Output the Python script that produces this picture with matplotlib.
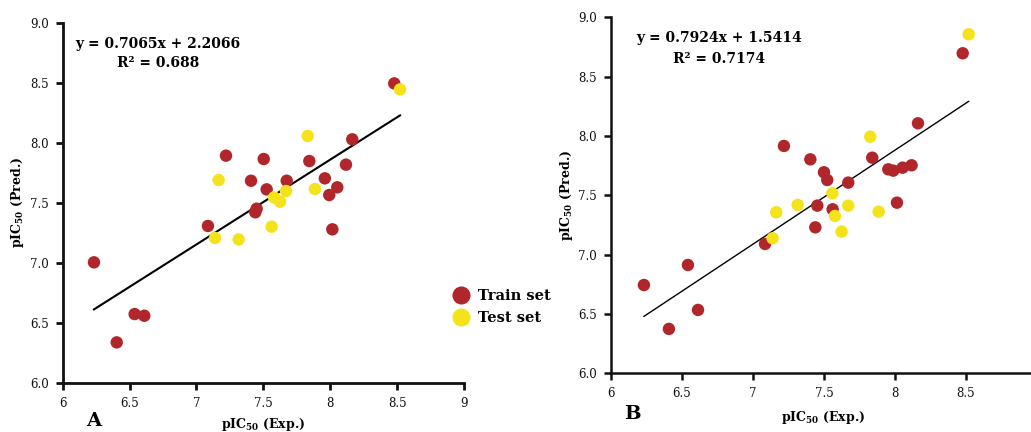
import matplotlib
matplotlib.use("Agg")
import matplotlib.pyplot as plt
from matplotlib.lines import Line2D
import numpy as np

plt.rcParams['font.family'] = ['DejaVu Serif']
plt.rcParams['mathtext.fontset'] = 'custom'
plt.rcParams['mathtext.rm'] = 'DejaVu Serif:bold'
plt.rcParams['mathtext.bf'] = 'DejaVu Serif:bold'
plt.rcParams['mathtext.it'] = 'DejaVu Serif:bold'

RED = '#B1262A'
YEL = '#F4E31B'

# Panel A data
a_train_x = [8.479, 8.165, 8.118, 7.844, 7.96, 8.053, 7.993, 8.016, 7.675, 7.503,
             7.221, 7.408, 7.525, 7.45, 7.44, 7.086, 6.234, 6.538, 6.61, 6.404]
a_train_y = [8.494, 8.028, 7.817, 7.847, 7.703, 7.628, 7.564, 7.278, 7.683, 7.864,
             7.892, 7.683, 7.611, 7.45, 7.42, 7.306, 7.003, 6.572, 6.558, 6.336]
a_test_x = [8.522, 7.832, 7.166, 7.886, 7.67, 7.58, 7.625, 7.562, 7.139, 7.316]
a_test_y = [8.444, 8.056, 7.689, 7.614, 7.597, 7.544, 7.508, 7.3, 7.206, 7.194]
a_fit = (0.7065, 2.2066)
a_eq = "y = 0.7065x + 2.2066"
a_r2 = "R\u00b2 = 0.688"

# Panel B data
b_train_x = [8.477, 8.162, 8.117, 8.054, 7.988, 7.953, 7.84, 8.014, 7.671, 7.5, 7.523,
             7.404, 7.218, 7.453, 7.561, 7.439, 7.085, 6.542, 6.232, 6.613, 6.408]
b_train_y = [8.697, 8.107, 7.753, 7.733, 7.708, 7.719, 7.817, 7.438, 7.607, 7.694, 7.629,
             7.803, 7.916, 7.413, 7.382, 7.23, 7.09, 6.913, 6.744, 6.534, 6.374]
b_test_x = [8.519, 7.826, 7.559, 7.671, 7.315, 7.164, 7.885, 7.577, 7.624, 7.138]
b_test_y = [8.857, 7.994, 7.517, 7.413, 7.419, 7.357, 7.362, 7.326, 7.194, 7.138]
b_fit = (0.7924, 1.5414)
b_eq = "y = 0.7924x + 1.5414"
b_r2 = "R\u00b2 = 0.7174"

x_ticks = [6, 6.5, 7, 7.5, 8, 8.5, 9]
x_ticklabels = ['6', '6.5', '7', '7.5', '8', '8.5', '9']
y_ticks = [6.0, 6.5, 7.0, 7.5, 8.0, 8.5, 9.0]
y_ticklabels = ['6.0', '6.5', '7.0', '7.5', '8.0', '8.5', '9.0']

fig = plt.figure(figsize=(10.31, 4.32), dpi=100)
axA = fig.add_axes([0.0608, 0.1141, 0.3892, 0.8334])
axB = fig.add_axes([0.5926, 0.1359, 0.4132, 0.8240])


def style(ax, lw):
    ax.set_xlim(6, 9)
    ax.set_ylim(6, 9)
    ax.set_xticks(x_ticks)
    ax.set_xticklabels(x_ticklabels)
    ax.set_yticks(y_ticks)
    ax.set_yticklabels(y_ticklabels)
    for s in ['top', 'right']:
        ax.spines[s].set_visible(False)
    for s in ['left', 'bottom']:
        ax.spines[s].set_linewidth(lw)
        ax.spines[s].set_color('#111111')
    ax.tick_params(direction='out', length=5, width=lw, labelsize=8.5,
                   colors='#111111', pad=5)
    ax.set_xlabel(r'pIC$_{50}$ (Exp.)', fontsize=9, fontweight='bold')
    ax.set_ylabel(r'pIC$_{50}$ (Pred.)', fontsize=9, fontweight='bold')


def draw(ax, tx, ty, sx, sy, fit, lw_fit):
    allx = np.array(tx + sx)
    xs = np.array([allx.min(), allx.max()])
    ax.plot(xs, np.polyval(fit, xs), color='black', lw=lw_fit, zorder=1)
    ax.scatter(tx, ty, s=80, color=RED, edgecolors='none', zorder=2)
    ax.scatter(sx, sy, s=80, color=YEL, edgecolors='none', zorder=3)


style(axA, 2.0)
draw(axA, a_train_x, a_train_y, a_test_x, a_test_y, a_fit, 1.5)
axA.xaxis.set_label_coords(0.5, -0.093)
axA.yaxis.set_label_coords(-0.0915, 0.5)
axA.text(0.2375, 0.941, a_eq, transform=axA.transAxes, ha='center', va='center',
         fontsize=10, fontweight='bold')
axA.text(0.2375, 0.888, a_r2, transform=axA.transAxes, ha='center', va='center',
         fontsize=10, fontweight='bold')

style(axB, 1.8)
draw(axB, b_train_x, b_train_y, b_test_x, b_test_y, b_fit, 1.0)
axB.xaxis.set_label_coords((823 - 611) / 426, -0.10)
axB.yaxis.set_label_coords(-0.0845, 0.5)
axB.text(0.2535, 0.942, b_eq, transform=axB.transAxes, ha='center',
         va='center', fontsize=10, fontweight='bold')
axB.text(0.2535, 0.883, b_r2, transform=axB.transAxes, ha='center',
         va='center', fontsize=10, fontweight='bold')

fig.text(94 / 1031, 1 - 421 / 432, 'A', fontsize=14, fontweight='bold',
         ha='center', va='center')
fig.text(632 / 1031, 1 - 414 / 432, 'B', fontsize=14, fontweight='bold',
         ha='center', va='center')

handles = [Line2D([], [], marker='o', ls='none', color=RED, markersize=13,
                  markeredgewidth=0, label='Train set'),
           Line2D([], [], marker='o', ls='none', color=YEL, markersize=13,
                  markeredgewidth=0, label='Test set')]
fig.legend(handles=handles, loc='center left', bbox_to_anchor=(445 / 1031, 1 - 307 / 432),
           frameon=False, prop={'weight': 'bold', 'size': 10.5},
           handletextpad=0.55, labelspacing=0.55, borderpad=0, handlelength=1.2)

fig.savefig('out.png', dpi=100)
